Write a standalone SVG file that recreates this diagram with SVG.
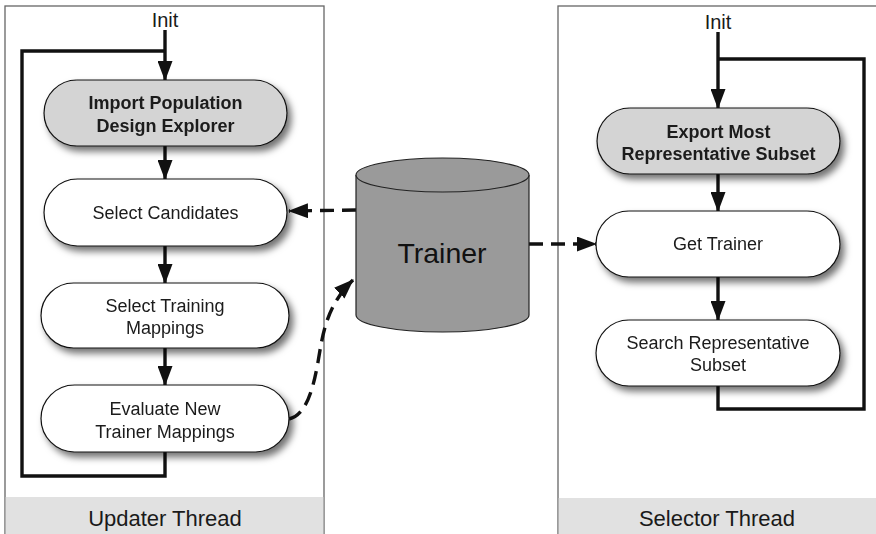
<svg xmlns="http://www.w3.org/2000/svg" width="876" height="534" viewBox="0 0 876 534">
<defs>
<style>
.panel{fill:#ffffff;stroke:#666666;stroke-width:1.3}
.band{fill:#e1e1e1}
.node{stroke:#111111;stroke-width:1.2}
.white{fill:#ffffff}
.grey{fill:#d4d4d4}
.t{font-family:"Liberation Sans",Arial,sans-serif;font-size:18px;fill:#1a1a1a;text-anchor:middle}
.b{font-weight:bold}
.init{font-family:"Liberation Sans",Arial,sans-serif;font-size:20px;fill:#1a1a1a;text-anchor:middle}
.lab{font-family:"Liberation Sans",Arial,sans-serif;font-size:22px;fill:#1a1a1a;text-anchor:middle}
.flow{fill:none;stroke:#111111;stroke-width:3.4}
.dash{fill:none;stroke:#111111;stroke-width:3.4;stroke-dasharray:14 8}
</style>
<marker id="ah" markerUnits="userSpaceOnUse" markerWidth="20" markerHeight="15" refX="19" refY="7.5" orient="auto" viewBox="0 0 20 15">
<path d="M0,0 L20,7.5 L0,15 z" fill="#111111"/>
</marker>
<filter id="sh" x="-20%" y="-30%" width="150%" height="180%">
<feDropShadow dx="4" dy="5" stdDeviation="3.5" flood-color="#000000" flood-opacity="0.55"/>
</filter>
</defs>

<g id="updater-thread">
<rect class="panel" x="5" y="6" width="319" height="540"/>
<rect class="band" x="5.7" y="497" width="317.6" height="37"/>
<text class="lab" x="165" y="526">Updater Thread</text>
</g>
<g id="selector-thread">
<rect class="panel" x="558" y="6" width="330" height="540"/>
<rect class="band" x="558.7" y="498" width="318" height="36"/>
<text class="lab" x="717" y="526">Selector Thread</text>
</g>

<text class="init" x="165" y="27">Init</text>
<text class="init" x="718" y="29">Init</text>

<g id="connectors">
<line class="flow" x1="165" y1="30" x2="165" y2="80" marker-end="url(#ah)"/>
<polyline class="flow" points="165,51 22,51 22,476 165,476 165,452"/>
<line class="flow" x1="165" y1="146" x2="165" y2="179" marker-end="url(#ah)"/>
<line class="flow" x1="165" y1="246" x2="165" y2="283" marker-end="url(#ah)"/>
<line class="flow" x1="165" y1="348" x2="165" y2="385" marker-end="url(#ah)"/>
<line class="flow" x1="718" y1="32" x2="718" y2="108" marker-end="url(#ah)"/>
<polyline class="flow" points="718,59 864,59 864,409 718,409 718,386"/>
<line class="flow" x1="718" y1="174" x2="718" y2="211" marker-end="url(#ah)"/>
<line class="flow" x1="718" y1="277" x2="718" y2="320" marker-end="url(#ah)"/>
<line class="dash" x1="356" y1="210" x2="289" y2="211" marker-end="url(#ah)"/>
<path class="dash" d="M289,419 C306,415 313,390 318,362 C323,332 327,305 353,280" marker-end="url(#ah)"/>
<line class="dash" x1="529" y1="244" x2="596" y2="244" marker-end="url(#ah)"/>
</g>

<g id="import-population" filter="url(#sh)">
<rect class="node grey" x="44" y="80" width="243" height="66" rx="33"/>
<text class="t b" x="165.5" y="109">Import Population</text>
<text class="t b" x="165.5" y="132">Design Explorer</text>
</g>
<g id="select-candidates" filter="url(#sh)">
<rect class="node white" x="44" y="179" width="243" height="67" rx="33.5"/>
<text class="t" x="165.5" y="219">Select Candidates</text>
</g>
<g id="select-training" filter="url(#sh)">
<rect class="node white" x="41" y="283" width="248" height="65" rx="32.5"/>
<text class="t" x="165" y="312">Select Training</text>
<text class="t" x="165" y="334">Mappings</text>
</g>
<g id="evaluate" filter="url(#sh)">
<rect class="node white" x="41" y="385" width="248" height="67" rx="33.5"/>
<text class="t" x="165" y="415">Evaluate New</text>
<text class="t" x="165" y="438">Trainer Mappings</text>
</g>

<g id="trainer">
<path d="M356,175 L356,315 A86.5,17 0 0 0 529,315 L529,175" fill="#9a9a9a" stroke="#222222" stroke-width="1.2"/>
<ellipse cx="442.5" cy="175" rx="86.5" ry="17" fill="#9a9a9a" stroke="#222222" stroke-width="1.2"/>
<text x="442" y="263" font-family="Liberation Sans, Arial, sans-serif" font-size="28.5" fill="#111111" text-anchor="middle">Trainer</text>
</g>

<g id="export-subset" filter="url(#sh)">
<rect class="node grey" x="597" y="108" width="243" height="66" rx="33"/>
<text class="t b" x="718.5" y="138">Export Most</text>
<text class="t b" x="718.5" y="160">Representative Subset</text>
</g>
<g id="get-trainer" filter="url(#sh)">
<rect class="node white" x="596" y="211" width="244" height="66" rx="33"/>
<text class="t" x="718" y="250">Get Trainer</text>
</g>
<g id="search-subset" filter="url(#sh)">
<rect class="node white" x="596" y="320" width="244" height="66" rx="33"/>
<text class="t" x="718" y="349">Search Representative</text>
<text class="t" x="718" y="371">Subset</text>
</g>
</svg>
